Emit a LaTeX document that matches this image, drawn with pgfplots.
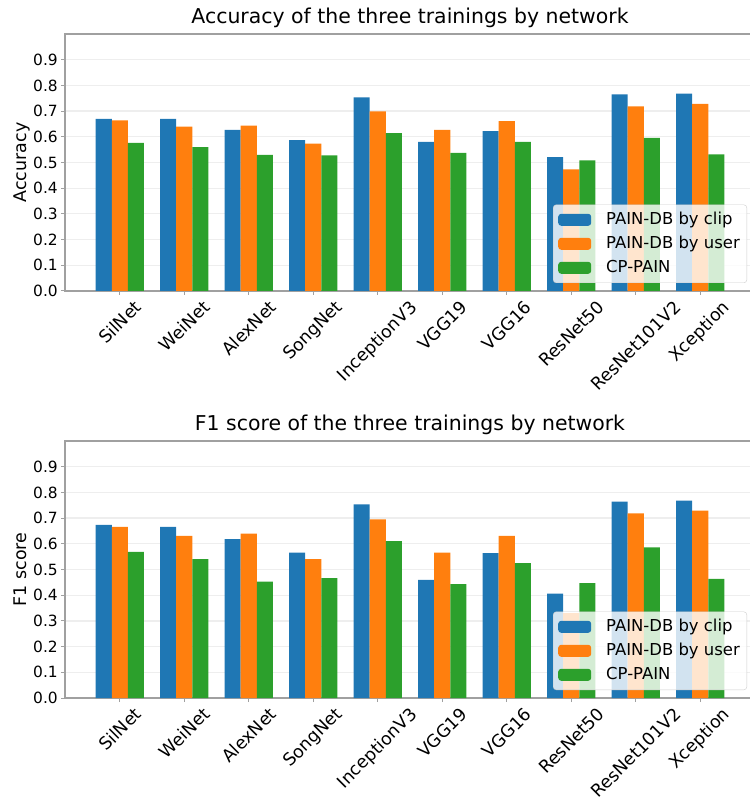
\documentclass[border=0pt]{standalone}
\usepackage{pgfplots}
\pgfplotsset{compat=1.18}
\usepackage{pgfplotstable}
\usepackage{graphicx}
\usepackage{fontspec}
\setmainfont{DejaVu Sans}

\definecolor{tabblue}{HTML}{1F77B4}
\definecolor{taborange}{HTML}{FF7F0E}
\definecolor{tabgreen}{HTML}{2CA02C}
\definecolor{spine}{HTML}{A0A0A0}
\definecolor{gridc}{HTML}{EEEEEE}

\pgfplotstableread{
x clip user cp
0 0.670 0.664 0.576
1 0.670 0.640 0.560
2 0.627 0.643 0.530
3 0.587 0.573 0.528
4 0.753 0.699 0.614
5 0.580 0.627 0.537
6 0.622 0.661 0.580
7 0.521 0.473 0.508
8 0.765 0.718 0.596
9 0.768 0.728 0.532
}\acc

\pgfplotstableread{
x clip user cp
0 0.674 0.666 0.569
1 0.666 0.631 0.540
2 0.618 0.640 0.453
3 0.566 0.540 0.466
4 0.753 0.695 0.610
5 0.460 0.566 0.443
6 0.564 0.631 0.525
7 0.406 0.330 0.447
8 0.764 0.718 0.586
9 0.768 0.729 0.464
}\fone

\newcommand{\rl}[1]{\rotatebox{45}{#1}}
\newcommand{\labfont}{\fontsize{17.5}{21}\selectfont}

\pgfplotsset{
  mystyle/.style={
    width=690bp, height=257bp, scale only axis,
    xmin=-0.85, xmax=9.85, ymin=0, ymax=1.0,
    xtick={0,1,2,3,4,5,6,7,8,9},
    xticklabels={\rl{SilNet},\rl{WeiNet},\rl{AlexNet},\rl{SongNet},\rl{InceptionV3},\rl{VGG19},\rl{VGG16},\rl{ResNet50},\rl{ResNet101V2},\rl{Xception}},
    ytick={0,0.1,0.2,0.3,0.4,0.5,0.6,0.7,0.8,0.9},
    ymajorgrids,
    grid style={draw=gridc, line width=1.2bp},
    axis line style={draw=spine, line width=1.2bp},
    tick style={draw=spine, line width=1bp},
    tick align=outside, major tick length=4bp,
    xtick pos=lower, ytick pos=left,
    yticklabel style={font=\fontsize{15.5}{18}\selectfont, anchor=east, inner sep=0pt, xshift=-3bp,
      /pgf/number format/.cd, fixed, fixed zerofill, precision=1, assume math mode=true},
    xticklabel style={font=\fontsize{17.5}{21}\selectfont, anchor=north, inner sep=0pt, yshift=-4bp},
    title style={font=\fontsize{20.5}{24}\selectfont, at={(axis description cs:0.5,1)}, anchor=base, yshift=5bp},
    every axis y label/.style={at={(axis description cs:-0.0565,0.5)}, rotate=90, anchor=base},
    legend style={at={(axis description cs:1,0)}, anchor=south east, xshift=-8bp, yshift=8bp,
      draw=gray!40, rounded corners=3bp, fill=white, fill opacity=0.8, text opacity=1, draw opacity=1,
      font=\fontsize{16.5}{20}\selectfont, inner xsep=5bp, inner ysep=5bp, row sep=4bp,
      nodes={inner sep=2bp, text height=12.5bp, text depth=3.5bp},
      /tikz/every odd column/.style={column sep=13bp}},
    legend cell align=left,
  },
  bars/.style={ybar, bar width=0.25, bar shift=#1, draw=none,
    legend image code/.code={\fill[##1, fill opacity=1] (0bp,-6bp) rectangle (33bp,6bp);}},
}

\begin{document}
\begin{tikzpicture}
\begin{axis}[mystyle, at={(0,407bp)}, anchor=south west,
  title={Accuracy of the three trainings by network}, ylabel={\labfont Accuracy}]
\addplot[bars=-0.25, fill=tabblue] table[x=x,y=clip]{\acc};
\addplot[bars=0, fill=taborange] table[x=x,y=user]{\acc};
\addplot[bars=0.25, fill=tabgreen] table[x=x,y=cp]{\acc};
\legend{PAIN-DB by clip, PAIN-DB by user, CP-PAIN}
\end{axis}
\begin{axis}[mystyle, at={(0,0)}, anchor=south west,
  title={F1 score of the three trainings by network}, ylabel={\labfont F1 score}]
\addplot[bars=-0.25, fill=tabblue] table[x=x,y=clip]{\fone};
\addplot[bars=0, fill=taborange] table[x=x,y=user]{\fone};
\addplot[bars=0.25, fill=tabgreen] table[x=x,y=cp]{\fone};
\legend{PAIN-DB by clip, PAIN-DB by user, CP-PAIN}
\end{axis}
\pgfresetboundingbox
\path[use as bounding box] (-65bp,-102bp) rectangle (685bp,698bp);
\end{tikzpicture}
\end{document}
